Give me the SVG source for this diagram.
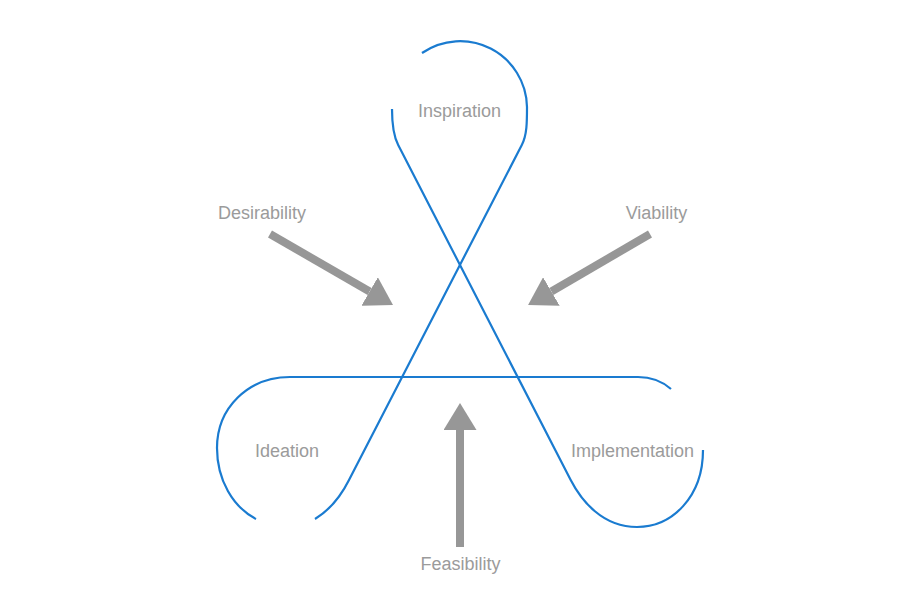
<svg xmlns="http://www.w3.org/2000/svg" width="920" height="600" viewBox="0 0 920 600">
<style>
.loop{fill:none;stroke:#1a7bd0;stroke-width:2.2;stroke-linecap:butt}
.arrow{fill:none;stroke:#979797;stroke-width:8}
.lbl{font-family:"Liberation Sans",Arial,sans-serif;font-size:18px;fill:#9b9b9b;text-anchor:middle}
</style>
<defs>
<marker id="head" markerUnits="userSpaceOnUse" markerWidth="27" markerHeight="33" viewBox="0 0 27 33" refX="0" refY="16.5" orient="auto">
<path d="M0,0 L27,16.5 L0,33 z" fill="#979797"/>
</marker>
</defs>
<rect width="920" height="600" fill="#ffffff"/>
<g id="connectors">
<path class="loop" d="M392,109 C392,122 393,135 398.2,145 L570.7,480 C581,500 602,527 637,527 C672,527 703,497 703,450"/>
<path class="loop" d="M422,53 A67,67 0 0 1 527,107 C527,122 527,135 521.8,145 L349,480 C343,492 333,508 315,519"/>
<path class="loop" d="M256,519 C233,507 217,480 217,448 C217,408 248,377 290,377 L638,377 C652,377 663,382 671,389"/>
<line class="arrow" x1="270" y1="234" x2="369.6" y2="291.5" marker-end="url(#head)"/>
<line class="arrow" x1="650" y1="234" x2="551.4" y2="291.5" marker-end="url(#head)"/>
<line class="arrow" x1="460" y1="547" x2="460" y2="430" marker-end="url(#head)"/>
</g>
<g id="inspiration"><text class="lbl" x="459.5" y="117">Inspiration</text></g>
<g id="ideation"><text class="lbl" x="287" y="457">Ideation</text></g>
<g id="implementation"><text class="lbl" x="632.5" y="457">Implementation</text></g>
<g id="desirability"><text class="lbl" x="262" y="219">Desirability</text></g>
<g id="viability"><text class="lbl" x="656.5" y="219">Viability</text></g>
<g id="feasibility"><text class="lbl" x="460.5" y="570">Feasibility</text></g>
</svg>
